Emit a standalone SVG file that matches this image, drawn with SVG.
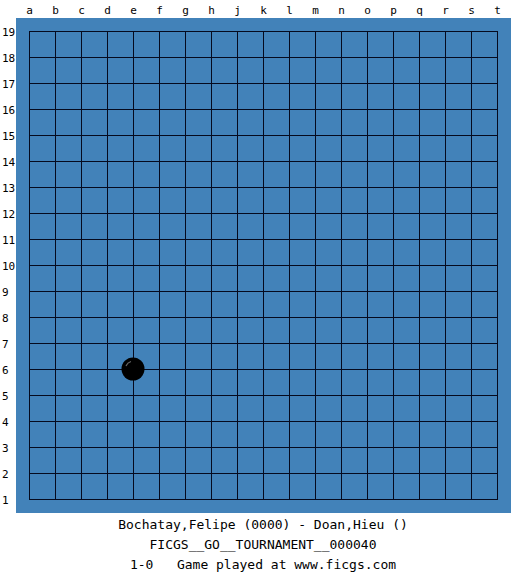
<svg xmlns="http://www.w3.org/2000/svg" width="525" height="575" viewBox="0 0 525 575">
<style>
.lbl{font-family:"DejaVu Sans Mono","Liberation Mono",monospace;font-size:11px;fill:#000}
.cap{font-family:"DejaVu Sans Mono","Liberation Mono",monospace;font-size:13px;fill:#000;text-anchor:middle;white-space:pre}
.col{text-anchor:middle}
.g{stroke:#050a1e;stroke-width:1;fill:none}
</style>
<rect width="525" height="575" fill="#fff"/>
<g id="board">
<rect x="16" y="18" width="495" height="495" fill="#4282b9"/>
<rect x="29.5" y="31.5" width="468" height="468" fill="#4282b9" class="g"/>
</g>
<g id="grid" class="g">
<path d="M55.5 31.5V499.5M81.5 31.5V499.5M107.5 31.5V499.5M133.5 31.5V499.5M159.5 31.5V499.5M185.5 31.5V499.5M211.5 31.5V499.5M237.5 31.5V499.5M263.5 31.5V499.5M289.5 31.5V499.5M315.5 31.5V499.5M341.5 31.5V499.5M367.5 31.5V499.5M393.5 31.5V499.5M419.5 31.5V499.5M445.5 31.5V499.5M471.5 31.5V499.5"/>
<path d="M29.5 57.5H497.5M29.5 83.5H497.5M29.5 109.5H497.5M29.5 135.5H497.5M29.5 161.5H497.5M29.5 187.5H497.5M29.5 213.5H497.5M29.5 239.5H497.5M29.5 265.5H497.5M29.5 291.5H497.5M29.5 317.5H497.5M29.5 343.5H497.5M29.5 369.5H497.5M29.5 395.5H497.5M29.5 421.5H497.5M29.5 447.5H497.5M29.5 473.5H497.5"/>
</g>
<g id="col-labels" class="lbl col">
<text x="29.5" y="14">a</text><text x="55.5" y="14">b</text><text x="81.5" y="14">c</text><text x="107.5" y="14">d</text><text x="133.5" y="14">e</text><text x="159.5" y="14">f</text><text x="185.5" y="14">g</text><text x="211.5" y="14">h</text><text x="237.5" y="14">j</text><text x="263.5" y="14">k</text><text x="289.5" y="14">l</text><text x="315.5" y="14">m</text><text x="341.5" y="14">n</text><text x="367.5" y="14">o</text><text x="393.5" y="14">p</text><text x="419.5" y="14">q</text><text x="445.5" y="14">r</text><text x="471.5" y="14">s</text><text x="497.5" y="14">t</text>
</g>
<g id="row-labels" class="lbl">
<text x="2" y="35.5">19</text><text x="2" y="61.5">18</text><text x="2" y="87.5">17</text><text x="2" y="113.5">16</text><text x="2" y="139.5">15</text><text x="2" y="165.5">14</text><text x="2" y="191.5">13</text><text x="2" y="217.5">12</text><text x="2" y="243.5">11</text><text x="2" y="269.5">10</text><text x="2" y="295.5">9</text><text x="2" y="321.5">8</text><text x="2" y="347.5">7</text><text x="2" y="373.5">6</text><text x="2" y="399.5">5</text><text x="2" y="425.5">4</text><text x="2" y="451.5">3</text><text x="2" y="477.5">2</text><text x="2" y="503.5">1</text>
</g>
<g id="stone-e6">
<circle cx="133" cy="369" r="11.5" fill="#000"/>
<path d="M126 366 A8 8 0 0 1 131 361.5" stroke="#666" stroke-width="1.2" fill="none"/>
</g>
<g id="caption">
<text class="cap" x="263" y="529">Bochatay,Felipe (0000) - Doan,Hieu ()</text>
<text class="cap" x="263" y="549">FICGS__GO__TOURNAMENT__000040</text>
<text class="cap" x="263" y="569" xml:space="preserve">1-0   Game played at www.ficgs.com</text>
</g>
</svg>
